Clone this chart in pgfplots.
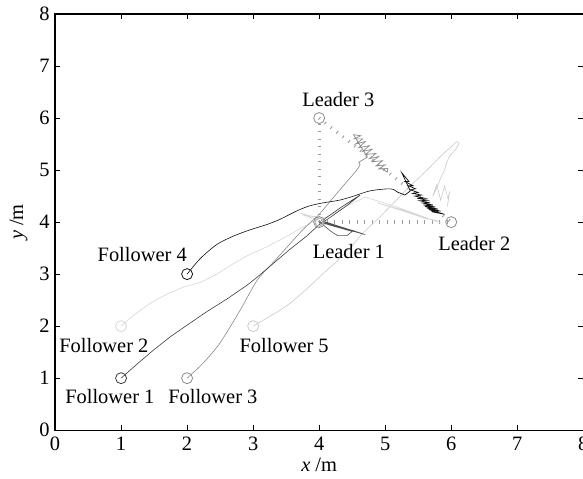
\documentclass[border=0pt]{standalone}
\usepackage{fontspec}
\setmainfont{Liberation Serif}
\usepackage{pgfplots}
\pgfplotsset{compat=1.18}
\definecolor{fone}{HTML}{3C3C3C}
\definecolor{ftwo}{HTML}{D6D6D6}
\definecolor{fthree}{HTML}{8A8A8A}
\definecolor{ffour}{HTML}{111111}
\definecolor{ffive}{HTML}{CACACA}
\definecolor{lead}{HTML}{8C8C8C}
\definecolor{leadj}{HTML}{505050}
\definecolor{dotc}{HTML}{9A9A9A}
\begin{document}
\begin{tikzpicture}
\begin{axis}[name=ax, scale only axis, width=528bp, height=416bp,
  xmin=0, xmax=8, ymin=0, ymax=8,
  xtick={0,1,...,8}, ytick={0,1,...,8},
  tick align=inside, xtick pos=both, ytick pos=both,
  xticklabel pos=bottom, yticklabel pos=left,
  major tick length=5bp,
  axis line style={line width=1.2pt},
  every tick/.style={black, line width=0.8pt},
  tick label style={font=\fontsize{20.5}{24}\selectfont},
  xticklabel style={yshift=-3bp},
  yticklabel style={xshift=-2bp},
  label style={font=\fontsize{20.5}{24}\selectfont},
  xlabel style={yshift=-1bp},
  ylabel style={yshift=5bp},
  /pgf/number format/assume math mode=true,
  xlabel={\textit{x} /m}, ylabel={\textit{y} /m},
  every axis plot/.append style={line width=0.6bp},
  clip=false]
% formation triangle
\addplot[dotc, line width=3.3bp, dash pattern=on 0.9bp off 6.6bp] coordinates {(4,4) (4,6)};
\addplot[dotc, line width=3.3bp, dash pattern=on 0.9bp off 6.6bp] coordinates {(4,4) (6,4)};
\addplot[dotc, line width=3.3bp, dash pattern=on 0.9bp off 6.6bp] coordinates {(4,6) (6,4)};
% Follower 5
\addplot[ffive] coordinates {(3,2) (3.2,2.15) (3.4,2.3) (3.56,2.44) (3.8,2.7) (4.05,3.0) (4.27,3.25) (4.5,3.55) (4.67,3.8) (4.92,4.1) (5.15,4.4) (5.4,4.72) (5.65,5.02) (5.85,5.28) (6.0,5.45) (6.08,5.55) (6.12,5.52) (6.07,5.4) (5.98,5.28) (5.93,5.15) (5.9,5.0) (5.84,4.85) (5.78,4.65) (5.72,4.5) (5.78,4.72) (5.84,4.42) (5.9,4.7) (5.95,4.45) (5.98,4.6) (5.94,4.3)};
% Follower 2
\addplot[ftwo] coordinates {(1,2) (1.2,2.22) (1.44,2.44) (1.7,2.62) (1.94,2.75) (2.2,2.84) (2.45,3.0) (2.7,3.2) (2.95,3.38) (3.2,3.52) (3.5,3.72) (3.86,3.98) (4.0,4.07) (3.7,4.18) (4.0,4.03) (3.75,4.14) (4.1,4.08) (4.4,4.3) (4.7,4.48) (5.2,4.28) (5.85,3.98) (5.3,4.22) (4.88,4.37) (5.3,4.2) (5.65,4.05) (5.5,4.12) (5.8,4.02)};
% Follower 3
\addplot[fthree, smooth] coordinates {(2,1) (2.25,1.3) (2.5,1.68) (2.8,2.3) (3.06,2.88) (3.3,3.22) (3.5,3.5) (3.75,3.85) (4.0,4.15) (4.2,4.45) (4.4,4.75) (4.55,4.97) (4.62,5.1)};
\addplot[fthree, line width=0.7bp] coordinates {(4.62,5.1) (4.6,5.15) (4.73,5.25)
 (4.52,5.68) (4.63,5.66) (4.53,5.6) (4.66,5.6) (4.55,5.5) (4.7,5.55) (4.6,5.43) (4.76,5.47) (4.66,5.36) (4.8,5.4) (4.7,5.3) (4.86,5.32) (4.76,5.22) (4.9,5.26) (4.8,5.16) (4.96,5.18) (4.86,5.08) (5.0,5.1) (4.9,5.02) (5.04,5.03) (5.03,4.96) (4.93,5.05)};
% Leader 1 jitter
\addplot[leadj] coordinates {(4,4) (4.7,3.76) (4.03,4.03) (4.66,3.77) (4.05,4.01) (4.62,3.79) (4.08,3.99) (4.58,3.81) (4.1,3.97) (4.54,3.83) (4.14,3.95) (4.5,3.82) (4.42,3.74) (4.28,3.74) (4.18,3.82) (4.05,3.96)};
% Follower 1
\addplot[fone] coordinates {(1,1) (1.25,1.28) (1.5,1.55) (1.75,1.8) (2,2.02) (2.3,2.28) (2.6,2.52) (2.9,2.78) (3.06,2.94) (3.3,3.2) (3.55,3.47) (3.8,3.72) (4.0,3.95) (4.2,4.12) (4.4,4.3) (4.62,4.52) (4.35,4.3) (4.1,4.08) (4.05,4.02)};
% Follower 4
\addplot[ffour, smooth] coordinates {(2,3) (2.2,3.3) (2.45,3.57) (2.7,3.73) (2.95,3.85) (3.2,3.95) (3.4,4.05) (3.67,4.22) (3.85,4.31) (4.06,4.37) (4.3,4.42) (4.5,4.49) (4.77,4.6) (5.08,4.64) (5.18,4.58)};
\addplot[ffour, line width=0.7bp] coordinates {(5.18,4.58) (5.3,4.52) (5.38,4.6) (5.25,4.95) (5.36,4.78) (5.3,4.78) (5.42,4.7) (5.35,4.7) (5.46,4.64) (5.38,4.62) (5.5,4.57) (5.42,4.55) (5.55,4.52) (5.45,4.5) (5.6,4.46) (5.48,4.46) (5.64,4.42) (5.52,4.41) (5.68,4.37) (5.55,4.37) (5.72,4.33) (5.58,4.33) (5.76,4.29) (5.6,4.3) (5.8,4.25) (5.63,4.27) (5.84,4.21) (5.66,4.24) (5.9,4.15) (5.7,4.2) (5.8,4.2)};
% start markers
\addplot[only marks, mark=o, mark size=5.5bp, fone, mark options={line width=0.8bp}] coordinates {(1,1)};
\addplot[only marks, mark=o, mark size=5.5bp, ftwo, mark options={line width=0.8bp}] coordinates {(1,2)};
\addplot[only marks, mark=o, mark size=5.5bp, fthree, mark options={line width=0.8bp}] coordinates {(2,1)};
\addplot[only marks, mark=o, mark size=5.5bp, ffour, mark options={line width=0.8bp}] coordinates {(2,3)};
\addplot[only marks, mark=o, mark size=5.5bp, ffive, mark options={line width=0.8bp}] coordinates {(3,2)};
\addplot[only marks, mark=o, mark size=5.5bp, lead, mark options={line width=0.8bp}] coordinates {(4,4) (6,4) (4,6)};
\addplot[only marks, mark=o, mark size=4bp, lead!60, mark options={line width=1.2bp}] coordinates {(4,4)};
% labels
\begin{scope}[font=\fontsize{20.5}{24}\selectfont]
\node at (axis cs:4.29,6.35) {Leader 3};
\node at (axis cs:4.45,3.44) {Leader 1};
\node at (axis cs:6.35,3.58) {Leader 2};
\node at (axis cs:1.32,3.38) {Follower 4};
\node at (axis cs:0.74,1.62) {Follower 2};
\node at (axis cs:0.83,0.65) {Follower 1};
\node at (axis cs:2.39,0.65) {Follower 3};
\node at (axis cs:3.47,1.62) {Follower 5};
\end{scope}
\end{axis}
\pgfresetboundingbox
\useasboundingbox ([xshift=-55bp,yshift=-48bp]ax.south west) rectangle ([xshift=-0.3bp,yshift=14bp]ax.north east);
\end{tikzpicture}
\end{document}
